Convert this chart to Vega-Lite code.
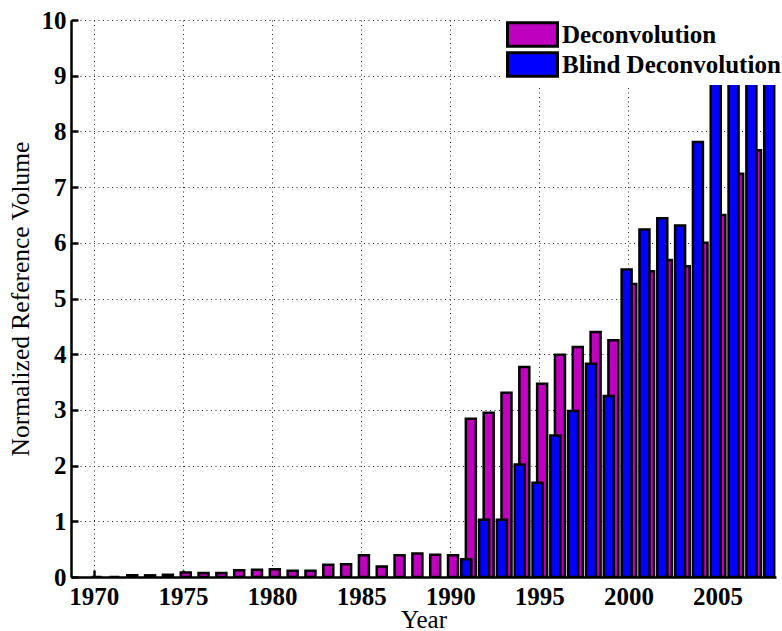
{
  "$schema": "https://vega.github.io/schema/vega-lite/v6.json",
  "width": 705,
  "height": 557,
  "autosize": {"type": "none"},
  "padding": {"left": 71, "top": 20, "right": 6, "bottom": 54},
  "background": "white",
  "config": {
    "view": {"stroke": null},
    "font": "Liberation Serif",
    "legend": {
      "title": null, "fillColor": "white",
      "symbolType": "M-2.5,-1.175L2.5,-1.175L2.5,1.175L-2.5,1.175Z", "symbolSize": 400,
      "symbolOffset": 15,
      "symbolStrokeColor": "black", "symbolStrokeWidth": 3, "symbolOpacity": 1,
      "labelFont": "Liberation Serif", "labelFontWeight": "bold", "labelFontSize": 25,
      "labelColor": "black", "labelOffset": 17, "rowPadding": 0, "labelLimit": 500
    }
  },
  "data": {"values": [
    {"series": "Deconvolution", "year": 1970, "value": 0},
    {"series": "Deconvolution", "year": 1971, "value": 0},
    {"series": "Deconvolution", "year": 1972, "value": 0.03},
    {"series": "Deconvolution", "year": 1973, "value": 0.03},
    {"series": "Deconvolution", "year": 1974, "value": 0.04},
    {"series": "Deconvolution", "year": 1975, "value": 0.08},
    {"series": "Deconvolution", "year": 1976, "value": 0.07},
    {"series": "Deconvolution", "year": 1977, "value": 0.07},
    {"series": "Deconvolution", "year": 1978, "value": 0.12},
    {"series": "Deconvolution", "year": 1979, "value": 0.13},
    {"series": "Deconvolution", "year": 1980, "value": 0.14},
    {"series": "Deconvolution", "year": 1981, "value": 0.11},
    {"series": "Deconvolution", "year": 1982, "value": 0.11},
    {"series": "Deconvolution", "year": 1983, "value": 0.22},
    {"series": "Deconvolution", "year": 1984, "value": 0.23},
    {"series": "Deconvolution", "year": 1985, "value": 0.39},
    {"series": "Deconvolution", "year": 1986, "value": 0.19},
    {"series": "Deconvolution", "year": 1987, "value": 0.39},
    {"series": "Deconvolution", "year": 1988, "value": 0.42},
    {"series": "Deconvolution", "year": 1989, "value": 0.40},
    {"series": "Deconvolution", "year": 1990, "value": 0.39},
    {"series": "Deconvolution", "year": 1991, "value": 2.84},
    {"series": "Deconvolution", "year": 1992, "value": 2.95},
    {"series": "Deconvolution", "year": 1993, "value": 3.31},
    {"series": "Deconvolution", "year": 1994, "value": 3.77},
    {"series": "Deconvolution", "year": 1995, "value": 3.47},
    {"series": "Deconvolution", "year": 1996, "value": 3.99},
    {"series": "Deconvolution", "year": 1997, "value": 4.13},
    {"series": "Deconvolution", "year": 1998, "value": 4.40},
    {"series": "Deconvolution", "year": 1999, "value": 4.25},
    {"series": "Deconvolution", "year": 2000, "value": 5.26},
    {"series": "Deconvolution", "year": 2001, "value": 5.49},
    {"series": "Deconvolution", "year": 2002, "value": 5.69},
    {"series": "Deconvolution", "year": 2003, "value": 5.58},
    {"series": "Deconvolution", "year": 2004, "value": 6.00},
    {"series": "Deconvolution", "year": 2005, "value": 6.50},
    {"series": "Deconvolution", "year": 2006, "value": 7.24},
    {"series": "Deconvolution", "year": 2007, "value": 7.66},
    {"series": "Blind Deconvolution", "year": 1991, "value": 0.32},
    {"series": "Blind Deconvolution", "year": 1992, "value": 1.03},
    {"series": "Blind Deconvolution", "year": 1993, "value": 1.03},
    {"series": "Blind Deconvolution", "year": 1994, "value": 2.02},
    {"series": "Blind Deconvolution", "year": 1995, "value": 1.69},
    {"series": "Blind Deconvolution", "year": 1996, "value": 2.54},
    {"series": "Blind Deconvolution", "year": 1997, "value": 2.98},
    {"series": "Blind Deconvolution", "year": 1998, "value": 3.83},
    {"series": "Blind Deconvolution", "year": 1999, "value": 3.25},
    {"series": "Blind Deconvolution", "year": 2000, "value": 5.52},
    {"series": "Blind Deconvolution", "year": 2001, "value": 6.24},
    {"series": "Blind Deconvolution", "year": 2002, "value": 6.44},
    {"series": "Blind Deconvolution", "year": 2003, "value": 6.31},
    {"series": "Blind Deconvolution", "year": 2004, "value": 7.81},
    {"series": "Blind Deconvolution", "year": 2005, "value": 9.4},
    {"series": "Blind Deconvolution", "year": 2006, "value": 10.3},
    {"series": "Blind Deconvolution", "year": 2007, "value": 11.2},
    {"series": "Blind Deconvolution", "year": 2008, "value": 12.0}
  ]},
  "encoding": {
    "x": {
      "field": "year", "type": "quantitative",
      "scale": {"domain": [1969, 2008], "nice": false, "zero": false},
      "axis": {
        "values": [1970, 1975, 1980, 1985, 1990, 1995, 2000, 2005],
        "format": "d",
        "grid": true, "gridDash": [1, 3.5], "gridColor": "#222", "gridWidth": 1,
        "domainColor": "black", "domainWidth": 2.5,
        "tickColor": "black", "tickWidth": 2.5, "tickSize": -7,
        "labelPadding": 14, "labelFont": "Liberation Serif", "labelFontSize": 25,
        "labelFontWeight": "bold", "labelColor": "black", "labelFlush": false, "labelOverlap": false,
        "title": "Year", "titleFont": "Liberation Serif", "titleFontSize": 25,
        "titleFontWeight": "normal", "titleColor": "black",
        "titleX": 352.5, "titleY": 50, "titleBaseline": "alphabetic", "titleAlign": "center"
      }
    },
    "y": {
      "field": "value", "type": "quantitative",
      "scale": {"domain": [0, 10], "nice": false},
      "axis": {
        "values": [0, 1, 2, 3, 4, 5, 6, 7, 8, 9, 10],
        "grid": true, "gridDash": [1, 3.5], "gridColor": "#222", "gridWidth": 1,
        "domainColor": "black", "domainWidth": 2.5,
        "tickColor": "black", "tickWidth": 2.5, "tickSize": -7,
        "labelPadding": 12, "labelFont": "Liberation Serif", "labelFontSize": 25,
        "labelFontWeight": "bold", "labelColor": "black", "labelFlush": false, "labelOverlap": false,
        "title": "Normalized Reference Volume", "titleFont": "Liberation Serif", "titleFontSize": 25.5,
        "titleFontWeight": "normal", "titleColor": "black",
        "titleX": -43, "titleY": 278.5, "titleBaseline": "alphabetic", "titleAlign": "center", "titleAngle": -90
      }
    }
  },
  "layer": [
    {
      "transform": [{"filter": "datum.series === 'Deconvolution'"}],
      "mark": {"type": "bar", "orient": "vertical", "width": 10, "xOffset": 2.8, "stroke": "black", "strokeWidth": 2.5, "clip": true, "opacity": 1},
      "encoding": {
        "color": {
          "field": "series", "type": "nominal",
          "scale": {"domain": ["Deconvolution"], "range": ["#BF00BF"]},
          "legend": {
            "orient": "none", "legendX": 430, "legendY": -2, "padding": 4,
            "labelExpr": "datum.label + '\u00a0\u00a0\u00a0\u00a0\u00a0\u00a0\u00a0\u00a0\u00a0\u00a0\u00a0\u00a0\u00a0\u00a0\u200b'"
          }
        }
      }
    },
    {
      "transform": [{"filter": "datum.series === 'Blind Deconvolution'"}],
      "mark": {"type": "bar", "orient": "vertical", "width": 10, "xOffset": -1.8, "stroke": "black", "strokeWidth": 2.5, "clip": true, "opacity": 1},
      "encoding": {
        "fill": {
          "field": "series", "type": "nominal",
          "scale": {"domain": ["Blind Deconvolution"], "range": ["#0000FF"]},
          "legend": {"orient": "none", "legendX": 432, "legendY": 30, "padding": 2}
        }
      }
    }
  ]
}
